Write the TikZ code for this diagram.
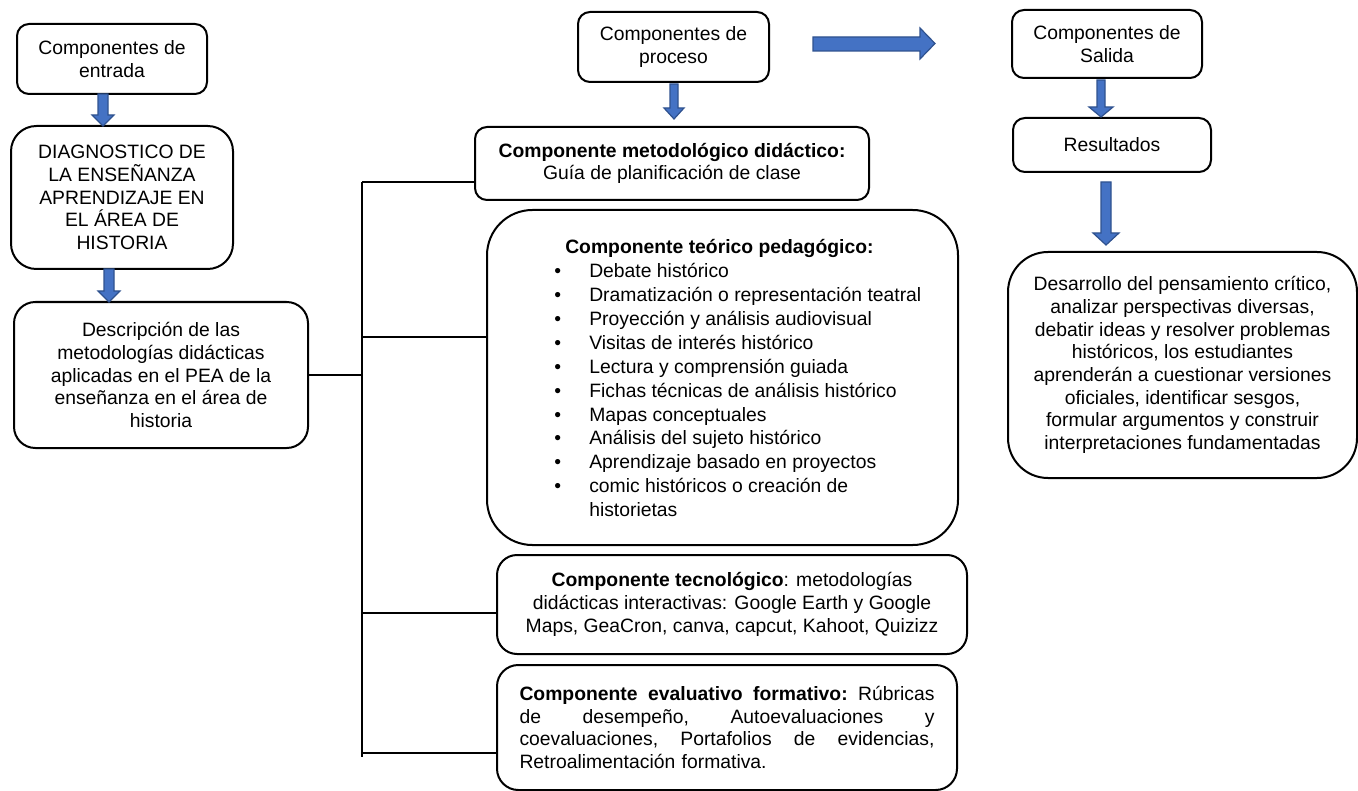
\documentclass[tikz,border=0pt]{standalone}
\usepackage{fontspec}
\setmainfont{Liberation Sans}
\definecolor{arrfill}{HTML}{4472C4}
\definecolor{arrdraw}{HTML}{2F528F}
\newcommand\vblock[6]{\filldraw[blockarrow] ({#1-#4},#2) -- ({#1+#4},#2) -- ({#1+#4},{#3-#6}) -- ({#1+#5},{#3-#6}) -- (#1,#3) -- ({#1-#5},{#3-#6}) -- ({#1-#4},{#3-#6}) -- cycle;}
\newcommand\jline[1]{\leavevmode\hbox to 311.25pt{#1}}
\begin{document}
\begin{tikzpicture}[x=0.75pt,y=-0.75pt,
  box/.style={draw=black, line width=1.5pt, rounded corners=9pt, align=center, inner sep=0pt,
    font=\fontsize{14.5pt}{17pt}\selectfont},
  conn/.style={line width=1.4pt, draw=black},
  blockarrow/.style={fill=arrfill, draw=arrdraw, line width=0.9pt, line join=miter}]
\useasboundingbox (0,0) rectangle (1358,791);

% left column
\node[box, minimum width=142.5pt, minimum height=52.5pt] (entrada) at (112,59) {Componentes de\\entrada};
\node[box, rounded corners=19pt, minimum width=166.5pt, minimum height=107.25pt] (diag) at (122,197.5)
  {DIAGNOSTICO DE\\LA ENSEÑANZA\\APRENDIZAJE EN\\EL ÁREA DE\\HISTORIA};
\node[box, rounded corners=16pt, minimum width=220.5pt, minimum height=109.5pt] (descr) at (161,375)
  {Descripción de las\\metodologías didácticas\\aplicadas en el PEA de la\\enseñanza en el área de\\historia};

% middle column
\node[box, minimum width=143.25pt, minimum height=52.5pt] (proceso) at (673.5,47) {Componentes de\\proceso};
\node[box, minimum width=295.5pt, minimum height=54.75pt] (metod) at (672,163.5)
  {\textbf{Componente metodológico didáctico:}\\Guía de planificación de clase};
\node[box, rounded corners=34pt, minimum width=353.25pt, minimum height=251.25pt] (teo) at (722.5,377.5) {};
\node[inner sep=0pt, anchor=base west, font=\fontsize{14.5pt}{17.9pt}\selectfont] (teotext) at (554,254)
  {\begin{tabular}[t]{@{}p{26.25pt}@{}l@{}}
   \multicolumn{2}{@{}l@{}}{\hspace*{8.25pt}\textbf{Componente teórico pedagógico:}}\\
   \textbullet & Debate histórico\\
   \textbullet & Dramatización o representación teatral\\
   \textbullet & Proyección y análisis audiovisual\\
   \textbullet & Visitas de interés histórico\\
   \textbullet & Lectura y comprensión guiada\\
   \textbullet & Fichas técnicas de análisis histórico\\
   \textbullet & Mapas conceptuales\\
   \textbullet & Análisis del sujeto histórico\\
   \textbullet & Aprendizaje basado en proyectos\\
   \textbullet & comic históricos o creación de\\
               & historietas
   \end{tabular}};
\node[box, rounded corners=15pt, minimum width=352.5pt, minimum height=74.25pt] (tecno) at (732,604.5)
  {\textbf{Componente tecnológico}: metodologías\\didácticas interactivas: Google Earth y Google\\Maps, GeaCron, canva, capcut, Kahoot, Quizizz};
\node[box, rounded corners=16pt, minimum width=345pt, minimum height=93.75pt, text width=311.25pt, align=left] (eval) at (727,727.5)
  {\jline{\textbf{Componente\hfill evaluativo\hfill formativo:}\hfill Rúbricas}\\
   \jline{de\hfill desempeño,\hfill Autoevaluaciones\hfill y}\\
   \jline{coevaluaciones,\hfill Portafolios\hfill de\hfill evidencias,}\\
   Retroalimentación formativa.};

% right column
\node[box, minimum width=142.5pt, minimum height=51pt] (salida) at (1107,44) {Componentes de\\Salida};
\node[box, minimum width=148.5pt, minimum height=40.5pt] (result) at (1112,145) {Resultados};
\node[box, rounded corners=30pt, minimum width=261.75pt, minimum height=169.5pt] (final) at (1182.5,365)
  {Desarrollo del pensamiento crítico,\\analizar perspectivas diversas,\\debatir ideas y resolver problemas\\históricos, los estudiantes\\aprenderán a cuestionar versiones\\oficiales, identificar sesgos,\\formular argumentos y construir\\interpretaciones fundamentadas};

% block arrows
\vblock{103}{94}{126}{5}{11}{11}
\vblock{109}{269}{302}{5}{11}{11}
\vblock{674}{84}{119}{4}{10}{11}
\vblock{1101}{80}{117}{4}{12}{10}
\vblock{1106}{182}{245}{5}{13}{12}
\filldraw[blockarrow] (813,37) -- (920,37) -- (920,28) -- (935,43.5) -- (920,59) -- (920,51) -- (813,51) -- cycle;

% bracket connectors
\coordinate (b1) at (362,182);
\coordinate (b2) at (362,337);
\coordinate (b3) at (362,613);
\coordinate (b4) at (362,753);
\coordinate (tbot) at (362,757);
\draw[conn] (b1) -- (tbot);
\draw[conn] (descr.east) -- (descr.east -| b1);
\draw[conn] (b1) -- (b1 -| metod.west);
\draw[conn] (b2) -- (b2 -| teo.west);
\draw[conn] (b3) -- (b3 -| tecno.west);
\draw[conn] (b4) -- (b4 -| eval.west);
\end{tikzpicture}
\end{document}
